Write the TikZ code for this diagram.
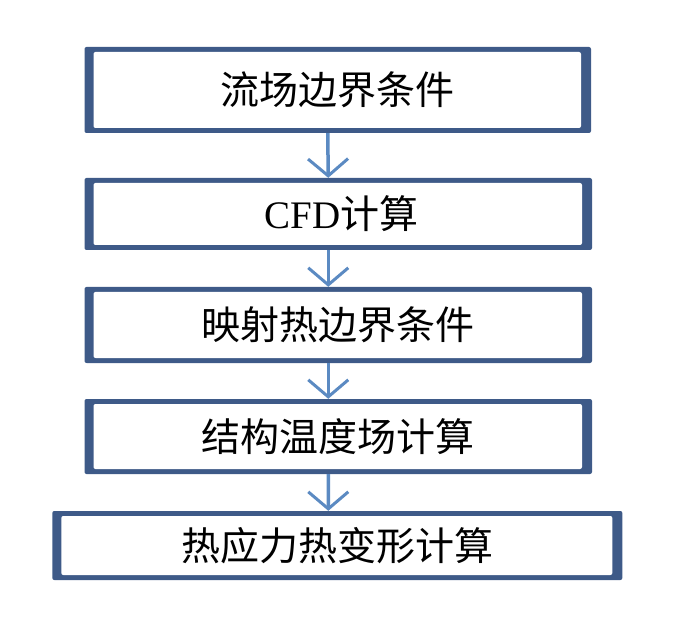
\documentclass[tikz,border=0pt]{standalone}
\usepackage{fontspec}
\setmainfont{Noto Sans CJK SC}
\newfontfamily\latinserif{Liberation Serif}
\usetikzlibrary{arrows.meta}
\definecolor{bordercol}{HTML}{3E5A88}
\definecolor{arrowcol}{HTML}{5B8AC2}
\tikzset{
  flowbox/.style={rectangle, fill=bordercol, rounded corners=2pt, inner sep=0pt,
    font=\fontsize{39}{39}\selectfont, text=black,
    path picture={\fill[white] ([shift={(9pt,-5pt)}]path picture bounding box.north west)
      rectangle ([shift={(-10pt,5pt)}]path picture bounding box.south east);}},
  flowarrow/.style={draw=arrowcol, line width=3.5pt,
    -{Straight Barb[length=17pt,width=40pt,line width=3pt]}}
}
\begin{document}
\begin{tikzpicture}[x=1pt,y=1pt]
\useasboundingbox (0,0) rectangle (700,632);
\node[flowbox, minimum width=506.5pt, minimum height=86pt] (b1) at (337.75,542) {流场边界条件\hspace{11pt}};
\node[flowbox, minimum width=507.5pt, minimum height=72pt] (b2) at (338.25,418) {\hspace{7pt}{\latinserif CFD}计算};
\node[flowbox, minimum width=507.5pt, minimum height=76pt] (b3) at (338.25,307) {映射热边界条件};
\node[flowbox, minimum width=507.5pt, minimum height=75pt] (b4) at (338.25,195.5) {结构温度场计算};
\node[flowbox, minimum width=570pt, minimum height=69pt] (b5) at (337.3,86.5) {热应力热变形计算\hspace{12pt}};
\draw[flowarrow] ([xshift=-10pt]b1.south) -- ([xshift=-10pt]b2.north);
\draw[flowarrow] ([xshift=-10pt]b2.south) -- ([xshift=-10pt]b3.north);
\draw[flowarrow] ([xshift=-10pt]b3.south) -- ([xshift=-10pt]b4.north);
\draw[flowarrow] ([xshift=-10pt]b4.south) -- ([xshift=-9pt]b5.north);
\end{tikzpicture}
\end{document}
